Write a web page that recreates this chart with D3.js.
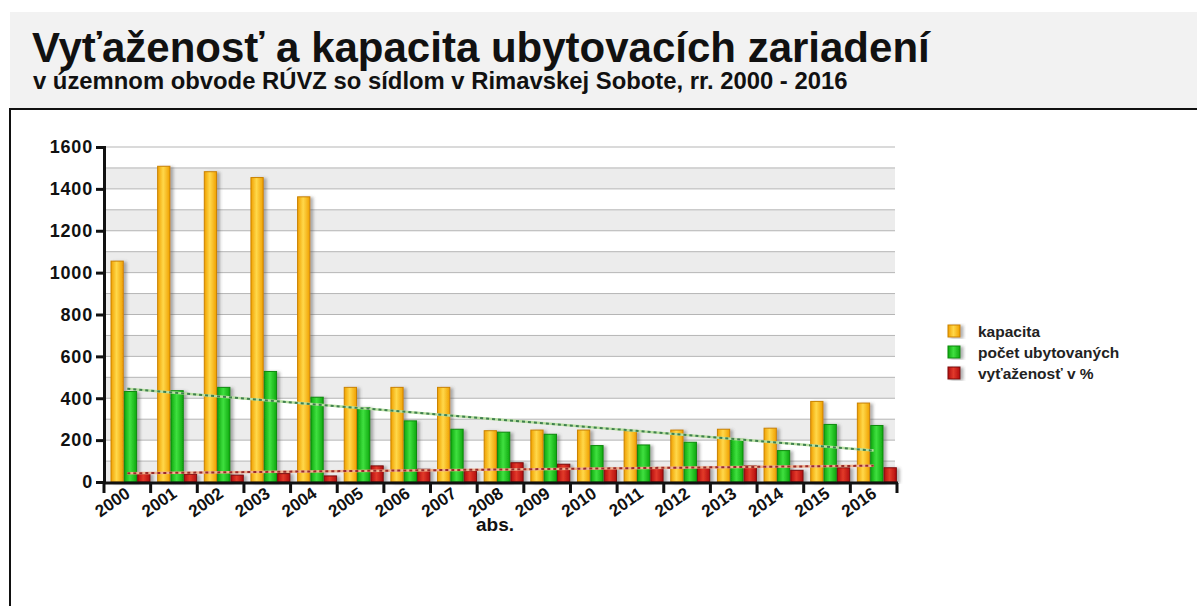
<!DOCTYPE html>
<html>
<head>
<meta charset="utf-8">
<script src="https://cdn.jsdelivr.net/npm/d3@7"></script>
<style>
  body { margin: 0; background: #fff; }
  text { font-family: "Liberation Sans", Arial, sans-serif; font-weight: bold; }
</style>
</head>
<body>
<svg id="chart" width="1197" height="606"></svg>
<script>
// data
const years = ["2000", "2001", "2002", "2003", "2004", "2005", "2006", "2007", "2008",
  "2009", "2010", "2011", "2012", "2013", "2014", "2015", "2016"];
const kapacita = [1055, 1508, 1482, 1454, 1362, 452, 452, 452, 245, 248, 248, 244, 248, 252, 257, 385, 377];
const pocet = [432, 436, 452, 528, 405, 356, 292, 252, 238, 228, 174, 177, 190, 204, 150, 275, 270];
const vytazenost = [40, 37, 33, 40, 29, 77, 61, 53, 92, 85, 66, 66, 68, 77, 56, 68, 68];
const seriesNames = ["kapacita", "počet ubytovaných", "vyťaženosť v %"];
const yTicks = [0, 200, 400, 600, 800, 1000, 1200, 1400, 1600];

const title = "Vyťaženosť a kapacita ubytovacích zariadení";
const subtitle = "v územnom obvode RÚVZ so sídlom v Rimavskej Sobote, rr. 2000 - 2016";

var svg = d3.select("#chart");

// colours: [dark edge, light centre, stroke]
const colors = [
  ["#f0a000", "#ffd84a", "#c98200"],
  ["#0fa80f", "#3fe03f", "#0b8a0b"],
  ["#b30d0d", "#e23a2a", "#7d0808"]
];

var defs = svg.append("defs");
colors.forEach(function (c, i) {
  var g = defs.append("linearGradient").attr("id", "grad" + i)
    .attr("x1", "0%").attr("x2", "100%").attr("y1", "0%").attr("y2", "0%");
  g.append("stop").attr("offset", "0%").attr("stop-color", c[0]);
  g.append("stop").attr("offset", "45%").attr("stop-color", c[1]);
  g.append("stop").attr("offset", "100%").attr("stop-color", c[0]);
});
var shadow = defs.append("filter").attr("id", "shadow")
  .attr("x", "-50%").attr("y", "-10%").attr("width", "200%").attr("height", "120%");
shadow.append("feDropShadow").attr("dx", 3).attr("dy", 1)
  .attr("stdDeviation", 1.6).attr("flood-color", "#555").attr("flood-opacity", 0.45);

// title panel
svg.append("rect").attr("x", 10).attr("y", 12).attr("width", 1187).attr("height", 98)
  .attr("fill", "#f2f2f2");
svg.append("rect").attr("x", 10).attr("y", 109).attr("width", 1200).attr("height", 520)
  .attr("fill", "#fff").attr("stroke", "#111").attr("stroke-width", 2);

var t1 = svg.append("text").attr("x", 32).attr("y", 62).attr("font-size", 36)
  .attr("fill", "#111").text(title);
t1.attr("font-size", 36 * 898 / t1.node().getComputedTextLength());
var t2 = svg.append("text").attr("x", 33).attr("y", 89).attr("font-size", 17)
  .attr("fill", "#111").text(subtitle);
t2.attr("font-size", 17 * 815 / t2.node().getComputedTextLength());

// scales
const x = d3.scaleBand().domain(years).range([104, 897]);
const xs = d3.scaleBand().domain([0, 1, 2]).range([7, 46]).paddingInner(0.08);
const y = d3.scaleLinear().domain([0, 1600]).range([482, 147]);

// alternating bands and grid lines
const bandStarts = d3.range(0, 1600, 200);
svg.append("g").selectAll("rect").data(bandStarts).join("rect")
  .attr("x", 106).attr("width", 789)
  .attr("y", (d) => y(d + 100)).attr("height", (d) => y(d) - y(d + 100))
  .attr("fill", "#ececec");
svg.append("g").selectAll("line").data(d3.range(100, 1700, 100)).join("line")
  .attr("x1", 106).attr("x2", 895)
  .attr("y1", (d) => y(d)).attr("y2", (d) => y(d))
  .attr("stroke", "#b5b5b5").attr("stroke-width", 1);

// bars
const allSeries = [kapacita, pocet, vytazenost];
allSeries.forEach(function (values, i) {
  svg.append("g").attr("filter", "url(#shadow)")
    .selectAll("rect").data(values).join("rect")
    .attr("x", (d, j) => x(years[j]) + xs(i))
    .attr("width", xs.bandwidth())
    .attr("y", (d) => y(d))
    .attr("height", (d) => y(0) - y(d))
    .attr("fill", "url(#grad" + i + ")")
    .attr("stroke", colors[i][2]).attr("stroke-width", 1);
});

// linear trend lines
function trend(values) {
  const n = values.length, mx = (n - 1) / 2, my = d3.mean(values);
  var sxy = 0, sxx = 0;
  values.forEach(function (v, i) { sxy += (i - mx) * (v - my); sxx += (i - mx) * (i - mx); });
  const b = sxy / sxx;
  return [[0, my - b * mx], [n - 1, my + b * (n - 1 - mx)]];
}
function drawTrend(values, light, dark) {
  const pts = trend(values);
  const line = d3.line()
    .x((d) => x(years[d[0]]) + x.bandwidth() / 2)
    .y((d) => y(d[1]));
  svg.append("path").attr("d", line(pts)).attr("stroke", light)
    .attr("stroke-width", 2.5).attr("fill", "none");
  svg.append("path").attr("d", line(pts)).attr("stroke", dark)
    .attr("stroke-width", 2).attr("stroke-dasharray", "3,3").attr("fill", "none");
}
drawTrend(pocet, "#b8e0a0", "#3f7f4f");
drawTrend(vytazenost, "#f0b090", "#9a2a2a");

// axes
const yAxis = d3.axisLeft(y).tickValues(yTicks).tickFormat(d3.format("d"))
  .tickSize(8).tickPadding(3);
svg.append("g").attr("transform", "translate(104,0)").call(yAxis)
  .call((g) => g.select(".domain").attr("stroke-width", 3).attr("stroke", "#111"))
  .call((g) => g.selectAll(".tick line").attr("stroke-width", 3).attr("stroke", "#111"))
  .call((g) => g.selectAll(".tick text").attr("font-size", 18).attr("fill", "#111")
    .attr("letter-spacing", 0.8)
    .attr("font-family", "Liberation Sans, Arial, sans-serif").attr("font-weight", "bold"));

var xAxisG = svg.append("g");
xAxisG.append("line").attr("x1", 103).attr("x2", 898).attr("y1", 483).attr("y2", 483)
  .attr("stroke", "#111").attr("stroke-width", 3);
const tickPos = years.map((d) => x(d)).concat([x.range()[1]]);
xAxisG.selectAll(".tk").data(tickPos).join("line").attr("class", "tk")
  .attr("x1", (d) => d).attr("x2", (d) => d).attr("y1", 483).attr("y2", 493)
  .attr("stroke", "#111").attr("stroke-width", 3);
xAxisG.selectAll("text").data(years).join("text")
  .attr("transform", (d) => "translate(" + (x(d) + x.bandwidth() / 2 + 4) + ",496) rotate(-35)")
  .attr("text-anchor", "end").attr("font-size", 17).attr("fill", "#111")
  .text((d) => d);

svg.append("text").attr("x", 495).attr("y", 531).attr("text-anchor", "middle")
  .attr("font-size", 19).attr("fill", "#111").text("abs.");

// legend
var legend = svg.append("g").selectAll("g").data(seriesNames).join("g")
  .attr("transform", (d, i) => "translate(948," + (325 + i * 21) + ")");
legend.append("rect").attr("width", 12).attr("height", 12)
  .attr("fill", (d, i) => "url(#grad" + i + ")")
  .attr("stroke", (d, i) => colors[i][2]).attr("filter", "url(#shadow)");
legend.append("text").attr("x", 30).attr("y", 11.5).attr("font-size", 15.5)
  .attr("fill", "#222").text((d) => d);
</script>
</body>
</html>
